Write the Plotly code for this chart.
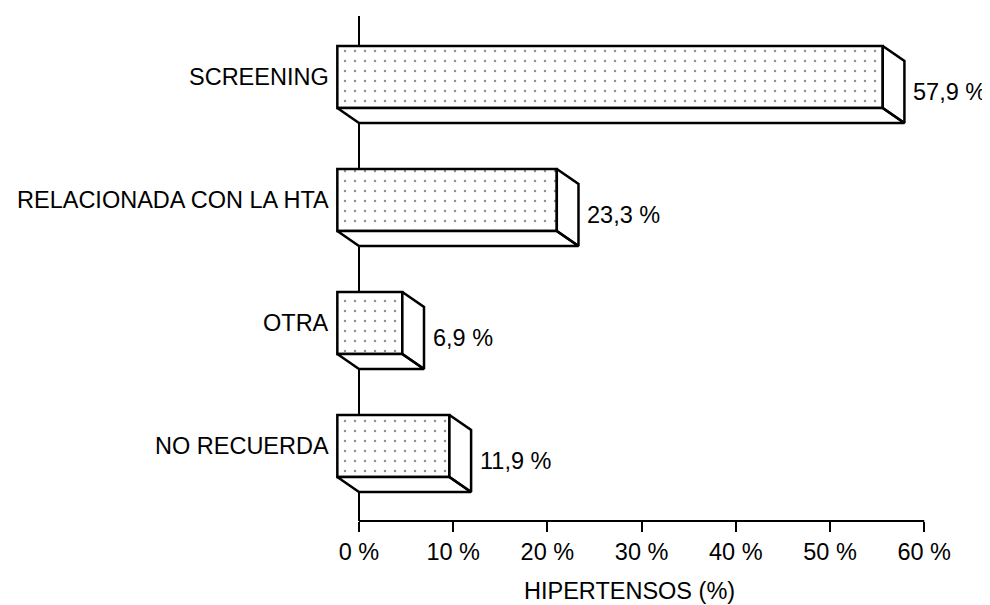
import plotly.graph_objects as go

categories = ["SCREENING", "RELACIONADA CON LA HTA", "OTRA", "NO RECUERDA"]
values = [57.9, 23.3, 6.9, 11.9]
positions = [3, 2, 1, 0]
tick_vals = [0, 10, 20, 30, 40, 50, 60]
tick_text = [f"{v} %" for v in tick_vals]

# fake 3D depth, in axis units
dx = 2.3
dy = 0.122
half = 0.252

value_text = [f"{v:.1f}".replace(".", ",") + " %" for v in values]

font = dict(family="Liberation Sans, Arial, sans-serif", size=23.5, color="#000000")

fig = go.Figure()

# front faces (dotted)
fig.add_trace(
    go.Bar(
        y=[p + dy for p in positions],
        x=values,
        base=-dx,
        width=2 * half,
        orientation="h",
        marker=dict(
            color="white",
            line=dict(color="black", width=2.5),
            pattern=dict(shape=".", size=10, solidity=0.05, fgcolor="#222222", bgcolor="white"),
        ),
        showlegend=False,
        hoverinfo="skip",
    )
)

# bottom and right side faces
xs, ys = [], []
for v, p in zip(values, positions):
    # bottom face
    xs += [-dx, v - dx, v, 0, -dx, None]
    ys += [p + dy - half, p + dy - half, p - half, p - half, p + dy - half, None]
    # right face
    xs += [v - dx, v, v, v - dx, v - dx, None]
    ys += [p + dy + half, p + half, p - half, p + dy - half, p + dy + half, None]

fig.add_trace(
    go.Scatter(
        x=xs,
        y=ys,
        mode="lines",
        fill="toself",
        fillcolor="white",
        line=dict(color="black", width=2.5),
        showlegend=False,
        hoverinfo="skip",
    )
)

for cat, v, p, t in zip(categories, values, positions, value_text):
    fig.add_annotation(
        x=-dx, y=p + dy, text=cat, showarrow=False,
        xanchor="right", yanchor="middle", xshift=-6, font=font,
    )
    fig.add_annotation(
        x=v, y=p, text=t, showarrow=False,
        xanchor="left", yanchor="middle", xshift=7, font=font,
    )

fig.add_annotation(
    x=28.7, y=0, yref="paper", text="HIPERTENSOS (%)", showarrow=False,
    xanchor="center", yanchor="middle", yshift=-70, font=font,
)

# axis lines
fig.add_shape(type="line", xref="x", yref="paper", x0=0, x1=0, y0=0, y1=1,
              line=dict(color="black", width=2), layer="below")
fig.add_shape(type="line", xref="x", yref="paper", x0=0, x1=60, y0=0, y1=0,
              line=dict(color="black", width=2), layer="below")

# page has an 8px body margin, so the figure is laid out 8px up/left
ppu = 9.42
zero_px = 351
left, right = 292, 967
fig.update_layout(
    width=982,
    height=597,
    paper_bgcolor="white",
    plot_bgcolor="white",
    margin=dict(l=left, r=982 - right, t=8, b=84),
    font=font,
    xaxis=dict(
        range=[(left - zero_px) / ppu, (right - zero_px) / ppu],
        tickvals=tick_vals,
        ticktext=tick_text,
        ticks="outside",
        ticklen=10,
        tickwidth=1.5,
        tickcolor="black",
        showgrid=False,
        zeroline=False,
        showline=False,
        tickfont=font,
    ),
    yaxis=dict(
        range=[-0.488, 3.618],
        showticklabels=False,
        showgrid=False,
        zeroline=False,
        showline=False,
        ticks="",
    ),
)

fig.write_html("out.html")
